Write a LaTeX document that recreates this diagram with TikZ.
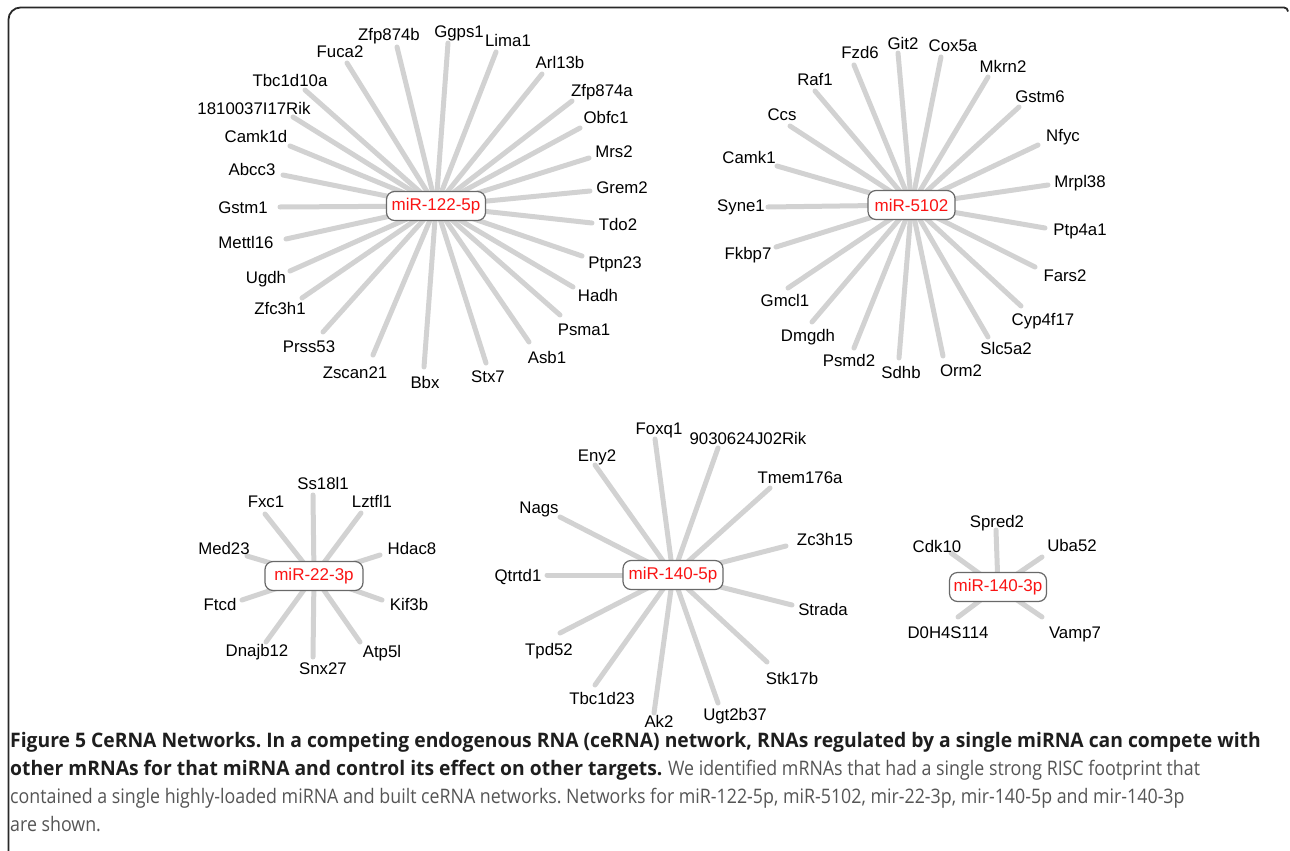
\documentclass[tikz,border=0pt]{standalone}
\usepackage{fontspec}
\setmainfont{Liberation Sans}
\newfontfamily\capbfont{Open Sans Bold}[FakeStretch=0.965]
\newfontfamily\caprfont{Open Sans}[FakeStretch=0.89]
\definecolor{edgegray}{RGB}{210,210,210}
\definecolor{hubred}{RGB}{250,20,20}
\definecolor{boxgray}{RGB}{105,105,105}
\definecolor{capgray}{RGB}{85,85,85}
\definecolor{capdark}{RGB}{30,30,30}
\definecolor{framegray}{RGB}{40,40,40}
\tikzset{
  cedge/.style={line width=5pt, draw=edgegray, line cap=round},
  gene/.style={inner sep=0pt, text height=12pt, text depth=0pt, font=\fontsize{16.8}{20}\selectfont},
  hub/.style={draw=boxgray, fill=white, rounded corners=8pt, line width=1.2pt, text=hubred,
    inner sep=0pt, minimum height=29pt, font=\fontsize{17}{20}\selectfont},
  frameline/.style={draw=framegray, line width=1.8pt},
  capline/.style={anchor=base west, inner sep=0pt, font=\fontsize{20}{24}\selectfont},
}
\frenchspacing
\begin{document}
\begin{tikzpicture}[x=1pt,y=-1pt]
\useasboundingbox (0,0) rectangle (1290,851);
\path[frameline] (8.5,851) -- (8.5,19.5) arc[start angle=180,end angle=270,radius=12] -- (1284,7.5) arc[start angle=270,end angle=360,radius=4];

% ---- network 1: miR-122-5p
\coordinate (h1) at (436,206);
\foreach \t/\ex/\ey/\lx/\ly in {
 Gstm1/280/207/243/207, Abcc3/283/175/252/169, Camk1d/290/146/256/136,
 1810037I17Rik/293/117/254/108, Tbc1d10a/305/90/290/80, Fuca2/347/63/340/52,
 Zfp874b/397/47/389/35, Ggps1/448/43/459/32, Lima1/496/52/508/41,
 Arl13b/542/74/560/62, Zfp874a/572/101/602/90, Obfc1/580/128/606/117,
 Mrs2/589/158/614/151, Grem2/590/191/622/187, Tdo2/592/223/618/224,
 Ptpn23/582/256/615/262, Hadh/573/287/598/295, Psma1/560/315/584/329,
 Asb1/529/342/547/357, Stx7/486/363/488/376, Bbx/424/367/425/382,
 Zscan21/373/355/355/372, Prss53/323/332/309/346, Zfc3h1/302/298/280/308,
 Ugdh/290/271/266/277, Mettl16/286/239/246/242}{
  \coordinate (ea-\t) at (\ex,\ey);
  \draw[cedge] (h1) -- (ea-\t);
  \node[gene] (la-\t) at (\lx,\ly) {\t};
}
\node[hub, minimum width=99pt] (hub1) at (h1) {miR-122-5p};

% ---- network 2: miR-5102
\coordinate (h2) at (911.5,205);
\foreach \t/\ex/\ey/\lx/\ly in {
 Syne1/768/207/741/205, Camk1/777/166/749/157, Ccs/790/126/782/114,
 Raf1/815/91/815/79, Fzd6/854/65/860/53, Git2/898/53/903/43,
 Cox5a/941/57/953/46, Mkrn2/988/77/1003/66, Gstm6/1019/107/1040/96,
 Nfyc/1038/145/1063/135, Mrpl38/1048/185/1080/181, Ptp4a1/1045/228/1080/229,
 Fars2/1035/267/1065/275, Cyp4f17/1021/306/1043/319, Slc5a2/988/337/1006/348,
 Orm2/943/356/961/370, Sdhb/899/358/901/372, Psmd2/854/348/849/360,
 Dmgdh/812/322/808/335, Gmcl1/788/288/785/300, Fkbp7/776/247/748/253}{
  \coordinate (eb-\t) at (\ex,\ey);
  \draw[cedge] (h2) -- (eb-\t);
  \node[gene] (lb-\t) at (\lx,\ly) {\t};
}
\node[hub, minimum width=87pt] (hub2) at (h2) {miR-5102};

% ---- network 3: miR-22-3p
\coordinate (h3) at (314,576);
\foreach \t/\ex/\ey/\lx/\ly in {
 Ss18l1/313/495/323/483, Lztfl1/361/513/372/501, Hdac8/380/555/412/548,
 Kif3b/382/600/409/604, Atp5l/360/642/382/651, Snx27/313/657/323/668,
 Dnajb12/266/642/257/650, Ftcd/242/600/220/604, Med23/247/556/224/548,
 Fxc1/265/514/266/501}{
  \coordinate (ec-\t) at (\ex,\ey);
  \draw[cedge] (h3) -- (ec-\t);
  \node[gene] (lc-\t) at (\lx,\ly) {\t};
}
\node[hub, minimum width=98pt] (hub3) at (h3) {miR-22-3p};

% ---- network 4: miR-140-5p
\coordinate (h4) at (673,575);
\foreach \t/\ex/\ey/\lx/\ly in {
 Qtrtd1/547/575/518/575, Nags/560/517/539/507, Eny2/595/465/597/455,
 Foxq1/655/439/659/428, 9030624J02Rik/718/448/748/438, Tmem176a/770/488/800/477,
 Zc3h15/786/546/825/539, Strada/792/605/823/609, Stk17b/767/662/792/678,
 Ugt2b37/718/703/735/714, Ak2/654/713/659/721, Tbc1d23/595/685/602/698,
 Tpd52/560/633/549/649}{
  \coordinate (ed-\t) at (\ex,\ey);
  \draw[cedge] (h4) -- (ed-\t);
  \node[gene] (ld-\t) at (\lx,\ly) {\t};
}
\node[hub, minimum width=100pt] (hub4) at (h4) {miR-140-5p};

% ---- network 5: miR-140-3p
\coordinate (h5) at (998,587);
\foreach \t/\ex/\ey/\lx/\ly in {
 Spred2/996/530/997/521, Cdk10/951/553/937/546, Uba52/1042/557/1072/545,
 Vamp7/1042/617/1075/632, D0H4S114/958/617/948/632}{
  \coordinate (ee-\t) at (\ex,\ey);
  \draw[cedge] (h5) -- (ee-\t);
  \node[gene] (le-\t) at (\lx,\ly) {\t};
}
\node[hub, minimum width=97pt] (hub5) at (h5) {miR-140-3p};

% ---- caption
\node[capline, text=capdark] (cap1) at (10,747) {\capbfont Figure 5 CeRNA Networks. In a competing endogenous RNA (ceRNA) network, RNAs regulated by a single miRNA can compete with};
\node[capline, text=capdark] (cap2) at (10,775.5) {{\capbfont other mRNAs for that miRNA and control its effect on other targets.} \textcolor{capgray}{\caprfont We identified mRNAs that had a single strong RISC footprint that}};
\node[capline, text=capgray] (cap3) at (10,803.5) {\caprfont contained a single highly-loaded miRNA and built ceRNA networks. Networks for miR-122-5p, miR-5102, mir-22-3p, mir-140-5p and mir-140-3p};
\node[capline, text=capgray] (cap4) at (10,831.5) {\caprfont are shown.};
\end{tikzpicture}
\end{document}
